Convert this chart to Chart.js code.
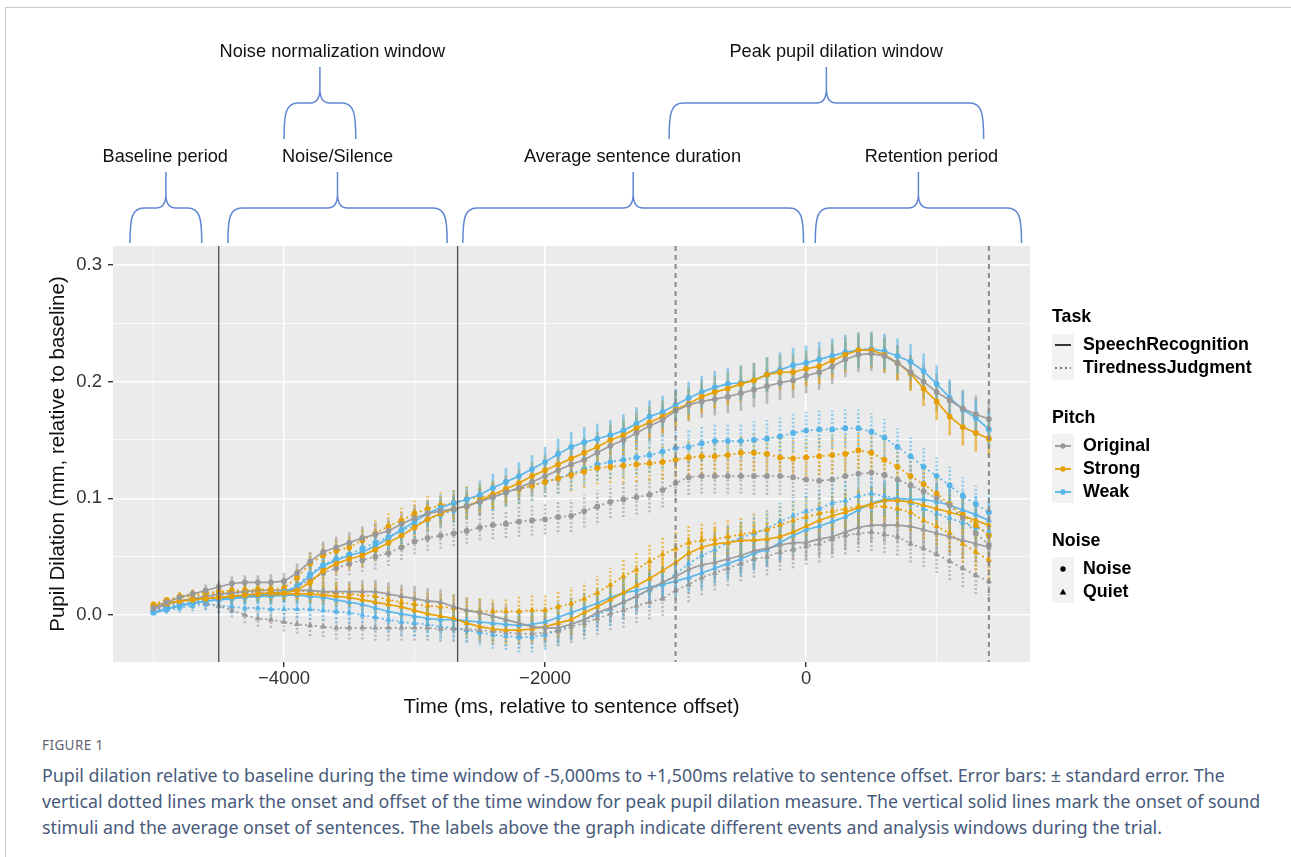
<!DOCTYPE html>
<html>
<head>
<meta charset="utf-8">
<script src="https://cdn.jsdelivr.net/npm/chart.js@4.4.1/dist/chart.umd.min.js"></script>
<style>
  html, body { margin: 0; padding: 0; background: #fff; }
  body { width: 1291px; height: 857px; position: relative; overflow: hidden; }
  #frame { position: absolute; left: 5px; top: 7px; width: 1300px; height: 900px;
           border-top: 1px solid #c9c9c9; border-left: 1px solid #c9c9c9; }
  #wrap { position: absolute; left: 0; top: 0; width: 1291px; height: 725px; }
  #caption { position: absolute; left: 42px; top: 737px; font-family: "Noto Sans", "Open Sans", sans-serif; color: #475a7a; }
  #caption .fig { font-size: 13.5px; line-height: 16px; letter-spacing: 0.4px; color: #5f6470; }
  #caption p { margin: 9px 0 0 0; font-size: 17.8px; line-height: 26px; white-space: nowrap; }
</style>
</head>
<body>
<div id="frame"></div>
<div id="wrap"><canvas id="pupil"></canvas></div>
<div id="caption">
  <div class="fig">FIGURE 1</div>
  <p>Pupil dilation relative to baseline during the time window of -5,000ms to +1,500ms relative to sentence offset. Error bars: ± standard error. The<br>
  vertical dotted lines mark the onset and offset of the time window for peak pupil dilation measure. The vertical solid lines mark the onset of sound<br>
  stimuli and the average onset of sentences. The labels above the graph indicate different events and analysis windows during the trial.</p>
</div>

<script>
"use strict"

// time of each sample (ms, relative to sentence offset)
const timeMs = [-5000,-4900,-4800,-4700,-4600,-4500,-4400,-4300,-4200,-4100,-4000,-3900,-3800,-3700,-3600,-3500,
  -3400,-3300,-3200,-3100,-3000,-2900,-2800,-2700,-2600,-2500,
  -2400,-2300,-2200,-2100,-2000,-1900,-1800,-1700,-1600,-1500,
  -1400,-1300,-1200,-1100,-1000,-900,-800,-700,-600,-500,
  -400,-300,-200,-100,0,100,200,300,400,500,
  600,700,800,900,1000,1100,1200,1300,1400]

// SpeechRecognition, Noise
let srNoiseOriginal = [0.006,0.011,0.015,0.018,0.021,0.024,0.027,0.028,0.028,0.028,0.029,0.036,0.046,0.054,0.058,0.062,
  0.066,0.069,0.072,0.078,0.083,0.087,0.089,0.091,0.093,0.097,
  0.101,0.105,0.109,0.114,0.119,0.124,0.129,0.133,0.139,0.145,
  0.150,0.156,0.162,0.167,0.175,0.180,0.183,0.185,0.187,0.190,
  0.193,0.196,0.199,0.201,0.205,0.208,0.213,0.219,0.223,0.224,
  0.222,0.216,0.208,0.200,0.191,0.184,0.177,0.172,0.168]
let srNoiseStrong = [0.008,0.010,0.012,0.013,0.014,0.015,0.016,0.017,0.018,0.019,0.019,0.021,0.028,0.038,0.044,0.048,
  0.051,0.056,0.062,0.068,0.075,0.082,0.087,0.091,0.093,0.098,
  0.103,0.108,0.113,0.119,0.124,0.129,0.134,0.139,0.144,0.150,
  0.154,0.160,0.165,0.170,0.176,0.181,0.187,0.191,0.194,0.198,
  0.201,0.206,0.208,0.208,0.211,0.213,0.218,0.223,0.227,0.227,
  0.223,0.216,0.207,0.194,0.183,0.170,0.161,0.156,0.151]
let srNoiseWeak = [0.002,0.005,0.008,0.010,0.012,0.013,0.015,0.016,0.017,0.018,0.020,0.024,0.034,0.042,0.047,0.051,
  0.054,0.059,0.066,0.073,0.080,0.087,0.092,0.096,0.099,0.103,
  0.109,0.114,0.119,0.125,0.131,0.138,0.144,0.148,0.151,0.154,
  0.158,0.164,0.170,0.174,0.180,0.186,0.191,0.195,0.198,0.199,
  0.201,0.206,0.210,0.214,0.216,0.219,0.222,0.225,0.227,0.228,
  0.226,0.222,0.217,0.209,0.198,0.186,0.176,0.169,0.159]

// TirednessJudgment, Noise
let tjNoiseOriginal = [0.004,0.008,0.011,0.013,0.015,0.017,0.018,0.019,0.019,0.019,0.020,0.024,0.030,0.036,0.040,0.044,
  0.047,0.050,0.053,0.058,0.063,0.066,0.068,0.070,0.072,0.075,
  0.077,0.078,0.080,0.081,0.082,0.084,0.085,0.089,0.093,0.097,
  0.099,0.101,0.103,0.107,0.113,0.118,0.119,0.119,0.119,0.119,
  0.119,0.119,0.119,0.118,0.116,0.115,0.116,0.119,0.121,0.122,
  0.120,0.116,0.111,0.106,0.100,0.094,0.083,0.070,0.060]
let tjNoiseStrong = [0.009,0.013,0.016,0.018,0.019,0.020,0.021,0.021,0.022,0.022,0.023,0.032,0.044,0.051,0.055,0.058,
  0.064,0.070,0.076,0.081,0.087,0.091,0.094,0.096,0.099,0.101,
  0.103,0.106,0.108,0.111,0.114,0.117,0.120,0.123,0.126,0.127,
  0.128,0.129,0.130,0.131,0.133,0.135,0.136,0.136,0.137,0.139,
  0.139,0.138,0.135,0.134,0.135,0.136,0.137,0.138,0.141,0.139,
  0.133,0.127,0.119,0.112,0.104,0.095,0.086,0.077,0.068]
let tjNoiseWeak = [0.003,0.006,0.009,0.011,0.013,0.014,0.015,0.016,0.017,0.018,0.019,0.025,0.035,0.043,0.048,0.052,
  0.057,0.062,0.067,0.072,0.077,0.082,0.086,0.090,0.094,0.097,
  0.101,0.105,0.108,0.111,0.114,0.117,0.121,0.125,0.129,0.131,
  0.133,0.135,0.137,0.140,0.143,0.144,0.147,0.149,0.149,0.149,
  0.150,0.151,0.153,0.156,0.158,0.159,0.159,0.160,0.160,0.157,
  0.152,0.144,0.136,0.127,0.119,0.111,0.102,0.095,0.088]

// SpeechRecognition, Quiet
let srQuietOriginal = [0.005,0.009,0.012,0.014,0.016,0.018,0.019,0.020,0.021,0.021,0.021,0.021,0.021,0.020,0.020,0.020,
  0.020,0.020,0.018,0.016,0.014,0.012,0.011,0.007,0.004,0.002,
  -0.001,-0.004,-0.007,-0.010,-0.011,-0.011,-0.008,-0.004,0.002,0.006,
  0.011,0.016,0.022,0.028,0.033,0.039,0.043,0.045,0.048,0.051,
  0.055,0.057,0.060,0.062,0.062,0.065,0.067,0.071,0.075,0.077,
  0.077,0.077,0.076,0.073,0.070,0.067,0.064,0.061,0.058]
let srQuietStrong = [0.008,0.010,0.012,0.013,0.014,0.015,0.016,0.016,0.017,0.017,0.018,0.018,0.018,0.017,0.016,0.015,
  0.013,0.011,0.009,0.007,0.004,0.001,-0.001,-0.003,-0.007,-0.010,
  -0.012,-0.013,-0.013,-0.012,-0.010,-0.007,-0.004,0.002,0.007,0.013,
  0.019,0.025,0.031,0.038,0.045,0.053,0.058,0.061,0.062,0.064,
  0.064,0.065,0.067,0.071,0.076,0.081,0.085,0.088,0.092,0.095,
  0.098,0.098,0.097,0.094,0.091,0.088,0.085,0.081,0.077]
let srQuietWeak = [0.002,0.005,0.008,0.010,0.012,0.013,0.014,0.015,0.016,0.016,0.017,0.017,0.016,0.015,0.013,0.011,
  0.009,0.006,0.003,0.001,-0.001,-0.003,-0.004,-0.004,-0.005,-0.006,
  -0.007,-0.008,-0.009,-0.008,-0.006,-0.002,0.002,0.006,0.010,0.015,
  0.019,0.021,0.024,0.026,0.029,0.032,0.036,0.040,0.044,0.048,
  0.053,0.056,0.062,0.068,0.073,0.076,0.080,0.084,0.090,0.096,
  0.099,0.100,0.099,0.099,0.097,0.094,0.090,0.086,0.081]

// TirednessJudgment, Quiet
let tjQuietOriginal = [0.004,0.007,0.009,0.010,0.010,0.008,0.004,0.000,-0.003,-0.004,-0.006,-0.008,-0.009,-0.010,-0.011,-0.011,
  -0.011,-0.011,-0.011,-0.011,-0.011,-0.011,-0.012,-0.012,-0.012,-0.013,
  -0.014,-0.015,-0.016,-0.016,-0.015,-0.014,-0.010,-0.007,-0.003,0.001,
  0.004,0.008,0.011,0.014,0.021,0.026,0.032,0.036,0.040,0.044,
  0.048,0.050,0.054,0.056,0.059,0.061,0.065,0.068,0.070,0.071,
  0.069,0.067,0.061,0.057,0.052,0.046,0.040,0.034,0.029]
let tjQuietStrong = [0.009,0.012,0.015,0.016,0.018,0.019,0.020,0.020,0.021,0.021,0.021,0.021,0.020,0.019,0.019,0.018,
  0.017,0.016,0.013,0.011,0.009,0.008,0.007,0.006,0.004,0.003,
  0.003,0.003,0.003,0.004,0.004,0.007,0.010,0.014,0.019,0.026,
  0.033,0.039,0.046,0.052,0.057,0.062,0.064,0.065,0.067,0.069,
  0.071,0.073,0.077,0.081,0.084,0.087,0.089,0.091,0.093,0.093,
  0.093,0.091,0.088,0.081,0.076,0.070,0.061,0.054,0.047]
let tjQuietWeak = [0.002,0.004,0.006,0.008,0.009,0.008,0.007,0.006,0.006,0.005,0.005,0.005,0.005,0.004,0.003,0.002,
  0.000,-0.002,-0.004,-0.006,-0.007,-0.008,-0.010,-0.011,-0.013,-0.015,
  -0.017,-0.018,-0.019,-0.019,-0.017,-0.013,-0.008,-0.004,0.000,0.005,
  0.011,0.016,0.021,0.027,0.035,0.044,0.051,0.056,0.062,0.066,
  0.070,0.074,0.080,0.085,0.089,0.091,0.096,0.098,0.102,0.104,
  0.102,0.100,0.096,0.091,0.087,0.083,0.079,0.075,0.071]

// standard errors (per task)
let seSpeech = [0.002,0.003,0.004,0.004,0.005,0.005,0.006,0.006,0.006,0.007,0.007,0.008,0.008,0.009,0.009,0.009,
  0.010,0.010,0.010,0.010,0.011,0.011,0.011,0.011,0.011,0.012,
  0.012,0.012,0.012,0.012,0.013,0.013,0.013,0.013,0.013,0.013,
  0.014,0.014,0.014,0.014,0.014,0.014,0.014,0.014,0.014,0.015,
  0.015,0.015,0.015,0.015,0.015,0.015,0.015,0.015,0.015,0.015,
  0.015,0.015,0.015,0.015,0.016,0.016,0.016,0.016,0.016]
let seTiredness = [0.002,0.003,0.004,0.005,0.005,0.006,0.006,0.007,0.007,0.007,0.008,0.008,0.009,0.009,0.010,0.010,
  0.010,0.011,0.011,0.011,0.011,0.011,0.011,0.011,0.011,0.011,
  0.012,0.012,0.013,0.013,0.013,0.013,0.014,0.014,0.014,0.014,
  0.015,0.015,0.015,0.015,0.015,0.015,0.015,0.015,0.015,0.015,
  0.016,0.016,0.016,0.016,0.016,0.016,0.016,0.016,0.016,0.016,
  0.016,0.016,0.016,0.016,0.016,0.016,0.016,0.016,0.016]

let taskNames = ["SpeechRecognition", "TirednessJudgment"]
let pitchNames = ["Original", "Strong", "Weak"]
let noiseNames = ["Noise", "Quiet"]

let xTicks = [-5000, -4000, -3000, -2000, -1000, 0, 1000]
let xLabelled = [-4000, -2000, 0]
let yTicks = [0, 0.05, 0.1, 0.15, 0.2, 0.25, 0.3]

// vertical reference lines (ms)
let solidLines = [-4500, -2670]
let dottedLines = [-1000, 1400]

// event labels above the panel (ms)
let events = [
  { label: "Baseline period", from: -5180, to: -4630, labelAt: -4910, row: 0 },
  { label: "Noise/Silence", from: -4430, to: -2750, labelAt: -3590, row: 0 },
  { label: "Average sentence duration", from: -2630, to: -20, labelAt: -1330, row: 0 },
  { label: "Retention period", from: 70, to: 1650, labelAt: 960, row: 0 },
  { label: "Noise normalization window", from: -4000, to: -3450, labelAt: -3630, row: 1 },
  { label: "Peak pupil dilation window", from: -1050, to: 1360, labelAt: 230, row: 1 }
]

const pitchRGB = { Original: "153,153,153", Strong: "230,159,0", Weak: "86,180,233" }
const FONT = '"Liberation Sans", Arial, sans-serif'

let series = [
  ["SpeechRecognition", "Original", "Noise", srNoiseOriginal],
  ["SpeechRecognition", "Strong", "Noise", srNoiseStrong],
  ["SpeechRecognition", "Weak", "Noise", srNoiseWeak],
  ["TirednessJudgment", "Original", "Noise", tjNoiseOriginal],
  ["TirednessJudgment", "Strong", "Noise", tjNoiseStrong],
  ["TirednessJudgment", "Weak", "Noise", tjNoiseWeak],
  ["SpeechRecognition", "Original", "Quiet", srQuietOriginal],
  ["SpeechRecognition", "Strong", "Quiet", srQuietStrong],
  ["SpeechRecognition", "Weak", "Quiet", srQuietWeak],
  ["TirednessJudgment", "Original", "Quiet", tjQuietOriginal],
  ["TirednessJudgment", "Strong", "Quiet", tjQuietStrong],
  ["TirednessJudgment", "Weak", "Quiet", tjQuietWeak]
]

let datasets = series.map(([task, pitch, noise, values]) => {
  let rgb = pitchRGB[pitch]
  let dotted = task === "TirednessJudgment"
  return {
    label: task + " " + pitch + " " + noise,
    data: timeMs.map((t, i) => ({ x: t, y: values[i] })),
    se: dotted ? seTiredness : seSpeech,
    dotted: dotted,
    errColor: "rgba(" + rgb + ",0.62)",
    borderColor: "rgba(" + rgb + ",0.95)",
    backgroundColor: "rgb(" + rgb + ")",
    borderWidth: 1.7,
    borderDash: dotted ? [2, 3] : [],
    pointStyle: noise === "Noise" ? "circle" : "triangle",
    pointRadius: noise === "Noise" ? 2.9 : 3.5,
    pointBorderWidth: 0,
    pointBackgroundColor: "rgb(" + rgb + ")",
    tension: 0
  }
})

function brace(ctx, xl, xr, yBottom, yFlat, yTip) {
  let xm = (xl + xr) / 2
  ctx.beginPath()
  ctx.moveTo(xl, yBottom)
  ctx.bezierCurveTo(xl, yFlat + 10, xl + 2, yFlat, xl + 14, yFlat)
  ctx.lineTo(xm - 10, yFlat)
  ctx.quadraticCurveTo(xm, yFlat, xm, yFlat - 14)
  ctx.lineTo(xm, yTip)
  ctx.moveTo(xm, yFlat - 14)
  ctx.quadraticCurveTo(xm, yFlat, xm + 10, yFlat)
  ctx.lineTo(xr - 14, yFlat)
  ctx.bezierCurveTo(xr - 2, yFlat, xr, yFlat + 10, xr, yBottom)
  ctx.stroke()
}

const decorations = {
  id: "decorations",
  beforeDraw(chart) {
    let { ctx, chartArea: a } = chart
    ctx.save()
    ctx.fillStyle = "#ebebeb"
    ctx.fillRect(a.left, a.top, a.right - a.left, a.bottom - a.top)
    ctx.restore()
  },
  beforeDatasetsDraw(chart) {
    // error bars
    let { ctx, chartArea: a, scales: { x, y } } = chart
    ctx.save()
    ctx.beginPath()
    ctx.rect(a.left, a.top, a.right - a.left, a.bottom - a.top)
    ctx.clip()
    chart.data.datasets.forEach(ds => {
      ctx.strokeStyle = ds.errColor
      ctx.lineWidth = 2.6
      ctx.setLineDash(ds.dotted ? [2, 2] : [])
      ds.data.forEach((p, i) => {
        let px = x.getPixelForValue(p.x)
        ctx.beginPath()
        ctx.moveTo(px, y.getPixelForValue(p.y - ds.se[i]))
        ctx.lineTo(px, y.getPixelForValue(p.y + ds.se[i]))
        ctx.stroke()
      })
    })
    ctx.restore()
  },
  afterDatasetsDraw(chart) {
    let { ctx, chartArea: a, scales: { x } } = chart
    ctx.save()
    ctx.lineWidth = 1.3
    ctx.strokeStyle = "#4d4d4d"
    solidLines.forEach(v => {
      let px = x.getPixelForValue(v)
      ctx.beginPath(); ctx.moveTo(px, a.top); ctx.lineTo(px, a.bottom); ctx.stroke()
    })
    ctx.lineWidth = 2
    ctx.strokeStyle = "#8a8a8a"
    ctx.setLineDash([5, 4])
    dottedLines.forEach(v => {
      let px = x.getPixelForValue(v)
      ctx.beginPath(); ctx.moveTo(px, a.top); ctx.lineTo(px, a.bottom); ctx.stroke()
    })
    ctx.restore()
  },
  afterDraw(chart) {
    let { ctx, scales: { x } } = chart
    ctx.save()
    // braces and event labels
    ctx.strokeStyle = "#5f86d2"
    ctx.lineWidth = 1.5
    ctx.fillStyle = "#111"
    ctx.font = "18.2px " + FONT
    ctx.textAlign = "center"
    ctx.textBaseline = "middle"
    events.forEach(e => {
      let xl = x.getPixelForValue(e.from), xr = x.getPixelForValue(e.to)
      if (e.row === 0) {
        brace(ctx, xl, xr, 243, 208, 172)
        ctx.fillText(e.label, x.getPixelForValue(e.labelAt), 157)
      } else {
        brace(ctx, xl, xr, 139, 103, 67)
        ctx.fillText(e.label, x.getPixelForValue(e.labelAt), 52)
      }
    })

    // legend
    let lx = 1052, tx = 1083, kw = 22, row = 23
    ctx.textAlign = "left"
    let title = (t, yy) => {
      ctx.fillStyle = "#000"
      ctx.font = "bold 17.8px " + FONT
      ctx.fillText(t, lx, yy)
    }
    let item = (t, yy) => {
      ctx.fillStyle = "#000"
      ctx.font = "bold 17.8px " + FONT
      ctx.fillText(t, tx, yy)
    }
    let keyBg = (top, n) => {
      ctx.fillStyle = "#f2f2f2"
      ctx.fillRect(lx, top, kw, n * row)
    }

    title("Task", 317)
    keyBg(334, taskNames.length)
    taskNames.forEach((t, i) => {
      let yy = 345 + i * row
      ctx.strokeStyle = i === 0 ? "#222" : "#777"
      ctx.lineWidth = 1.8
      ctx.setLineDash(i === 0 ? [] : [2, 3])
      ctx.beginPath(); ctx.moveTo(lx + 3, yy); ctx.lineTo(lx + kw - 3, yy); ctx.stroke()
      ctx.setLineDash([])
      item(t, yy)
    })

    title("Pitch", 418)
    keyBg(434, pitchNames.length)
    pitchNames.forEach((p, i) => {
      let yy = 446 + i * row
      ctx.strokeStyle = "rgb(" + pitchRGB[p] + ")"
      ctx.lineWidth = 1.8
      ctx.beginPath(); ctx.moveTo(lx + 3, yy); ctx.lineTo(lx + kw - 3, yy); ctx.stroke()
      ctx.fillStyle = "rgb(" + pitchRGB[p] + ")"
      ctx.beginPath(); ctx.arc(lx + kw / 2, yy, 2.7, 0, Math.PI * 2); ctx.fill()
      item(p, yy)
    })

    title("Noise", 541)
    keyBg(557, noiseNames.length)
    noiseNames.forEach((n, i) => {
      let yy = 569 + i * row
      ctx.fillStyle = "#000"
      let cx = lx + kw / 2
      if (n === "Noise") {
        ctx.beginPath(); ctx.arc(cx, yy, 2.7, 0, Math.PI * 2); ctx.fill()
      } else {
        ctx.beginPath(); ctx.moveTo(cx, yy - 3.3); ctx.lineTo(cx + 3.3, yy + 2.5); ctx.lineTo(cx - 3.3, yy + 2.5); ctx.closePath(); ctx.fill()
      }
      item(n, yy)
    })
    ctx.restore()
  }
}

Chart.defaults.font.family = FONT

let pupilChart = new Chart(document.querySelector("#pupil"), {
  type: "line",
  data: { datasets: datasets },
  plugins: [decorations],
  options: {
    responsive: true,
    maintainAspectRatio: false,
    animation: false,
    events: [],
    layout: { padding: { left: 0, top: 246, right: 261, bottom: 0 } },
    plugins: { legend: { display: false }, tooltip: { enabled: false } },
    scales: {
      x: {
        type: "linear",
        min: -5310,
        max: 1715,
        afterFit: s => { s.height = 63 },
        afterBuildTicks: s => { s.ticks = xTicks.map(v => ({ value: v })) },
        border: { display: false },
        grid: {
          color: "#ffffff",
          lineWidth: c => xLabelled.includes(c.tick.value) ? 1.4 : 0.7,
          tickLength: 5,
          tickColor: c => xLabelled.includes(c.tick.value) ? "#333333" : "rgba(0,0,0,0)"
        },
        ticks: {
          padding: 1,
          color: "#333",
          font: { size: 18.5 },
          maxRotation: 0,
          callback: v => xLabelled.includes(v) ? String(v).replace("-", "\u2212") : ""
        },
        title: {
          display: true,
          text: "Time (ms, relative to sentence offset)",
          color: "#111",
          font: { size: 20.5 },
          padding: { top: 0, bottom: 5 }
        }
      },
      y: {
        min: -0.0403,
        max: 0.3162,
        afterFit: s => { s.width = 113 },
        afterBuildTicks: s => { s.ticks = yTicks.map(v => ({ value: v })) },
        border: { display: false },
        grid: {
          color: "#ffffff",
          lineWidth: c => (Math.round(c.tick.value * 100) % 10 === 0) ? 1.4 : 0.7,
          tickLength: 5,
          tickColor: c => (Math.round(c.tick.value * 100) % 10 === 0) ? "#333333" : "rgba(0,0,0,0)"
        },
        ticks: {
          padding: 6,
          color: "#333",
          font: { size: 18.5 },
          callback: v => (Math.round(v * 100) % 10 === 0) ? v.toFixed(1) : ""
        },
        title: {
          display: true,
          text: "Pupil Dilation (mm, relative to baseline)",
          color: "#111",
          font: { size: 20.5 },
          padding: { top: 46, bottom: 0 }
        }
      }
    }
  }
})
</script>
</body>
</html>
